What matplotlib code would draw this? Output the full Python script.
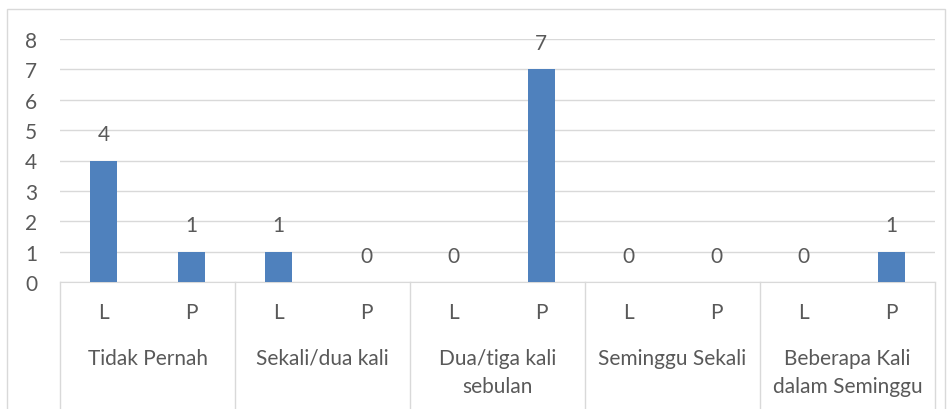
import numpy as np
import matplotlib.pyplot as plt
from matplotlib.patches import Rectangle

groups = ['Tidak Pernah', 'Sekali/dua kali', 'Dua/tiga kali\nsebulan',
          'Seminggu Sekali', 'Beberapa Kali\ndalam Seminggu']
subs = ['L', 'P']
values = [4, 1, 1, 0, 0, 7, 0, 0, 0, 1]

txt = '#595959'
bar_color = '#4F81BD'
grid_color = '#D9D9D9'
fs = 15
plt.rcParams['font.family'] = ['Lato', 'DejaVu Sans']

fig = plt.figure(figsize=(9.52, 4.10), dpi=100)
ax = fig.add_axes([60/952, 1-283/410, 875/952, 243/410])

x = np.arange(len(values))
ax.bar(x, values, width=0.31, color=bar_color, zorder=3)
for xi, v in zip(x, values):
    ax.annotate(str(v), (xi, v), xytext=(0, 19), textcoords='offset points',
                ha='center', va='center', fontsize=fs, color=txt)

ax.set_xlim(-0.5, len(values) - 0.5)
ax.set_ylim(0, 8)
ax.set_yticks(range(0, 9))
ax.tick_params(axis='y', length=0, labelsize=fs, labelcolor=txt, pad=25)
ax.tick_params(axis='x', length=0, labelbottom=False)
ax.yaxis.grid(True, color=grid_color, lw=1)
for s in ['top', 'right', 'left']:
    ax.spines[s].set_visible(False)
ax.spines['bottom'].set_color(grid_color)
for lbl in ax.get_yticklabels():
    lbl.set_ha('left')

# multi-level category axis
trans = ax.get_xaxis_transform()
for i in range(len(groups) + 1):
    ax.plot([i * 2 - 0.5] * 2, [0, -0.52], transform=trans, color=grid_color,
            lw=1, clip_on=False)
for xi in x:
    ax.text(xi, -0.123, subs[xi % 2], transform=trans, ha='center', va='center',
            fontsize=fs, color=txt)
for gi, g in enumerate(groups):
    ax.text(gi * 2 + 0.5, -0.27, g, transform=trans, ha='center', va='top',
            fontsize=fs, color=txt, linespacing=1.55)

# chart area border
fig.patches.append(Rectangle((7/952, -0.05), 938/952, 1.05 - 10/410,
                             transform=fig.transFigure, fill=False,
                             edgecolor=grid_color, lw=1))

fig.savefig('out.png', dpi=100)
